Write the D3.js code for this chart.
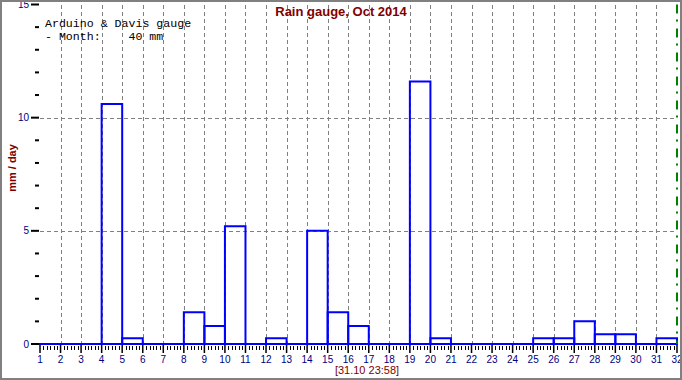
<!DOCTYPE html>
<html>
<head>
<meta charset="utf-8">
<script src="https://cdn.jsdelivr.net/npm/d3@7"></script>
<style>
  html, body { margin: 0; padding: 0; background: #fff; }
  svg { display: block; }
  .grid { stroke: #808080; stroke-width: 1; stroke-dasharray: 4,3; shape-rendering: crispEdges; }
  .tick-label { font-family: Arial, "Liberation Sans", sans-serif; font-size: 10px; fill: #000080; }
  .bar { fill: none; stroke: #0000ff; stroke-width: 2; stroke-linejoin: miter; }
  .note { font-family: "Courier New", "Liberation Mono", monospace; font-size: 11.6px; fill: #000; white-space: pre; }
</style>
</head>
<body>
<div id="chart"></div>
<script>
// daily rainfall, Oct 2014 (mm), one entry per day 1..31
const days = [1, 2, 3, 4, 5, 6, 7, 8, 9, 10, 11, 12, 13, 14, 15, 16,
              17, 18, 19, 20, 21, 22, 23, 24, 25, 26, 27, 28, 29, 30, 31];
const rain = [0, 0, 0, 10.6, 0.25, 0, 0, 1.4, 0.8, 5.2, 0, 0.25, 0, 5.0, 1.4, 0.8,
              0, 0, 11.6, 0.25, 0, 0, 0, 0, 0.25, 0.25, 1.0, 0.43, 0.43, 0, 0.25];

// axis ticks
const xTicks = [1, 2, 3, 4, 5, 6, 7, 8, 9, 10, 11, 12, 13, 14, 15, 16,
                17, 18, 19, 20, 21, 22, 23, 24, 25, 26, 27, 28, 29, 30, 31, 32];
const yMajor = [0, 5, 10, 15];
const yMinor = [1, 2, 3, 4, 6, 7, 8, 9, 11, 12, 13, 14];

const title = "Rain gauge, Oct 2014";
const yLabel = "mm / day";
const stamp = "[31.10 23:58]";
const notes = ["Arduino & Davis gauge", "- Month:    40 mm"];
const nowDay = 32;

const width = 682;
const height = 380;

const x = d3.scaleLinear().domain([1, 32]).range([40, 677]);
const y = d3.scaleLinear().domain([0, 15]).range([344, 4.5]);

const svg = d3.select("#chart").append("svg")
    .attr("width", width)
    .attr("height", height);

svg.append("rect")
    .attr("width", width)
    .attr("height", height)
    .attr("fill", "#fff");

// Vertical grid (days 2..31)
svg.selectAll(".vgrid")
    .data(xTicks.filter(d => d > 1 && d < 32))
    .enter().append("line")
    .attr("class", "grid")
    .attr("x1", d => Math.round(x(d)) + 0.5)
    .attr("x2", d => Math.round(x(d)) + 0.5)
    .attr("y1", y(15))
    .attr("y2", y(0));

// Horizontal grid
svg.selectAll(".hgrid")
    .data(yMajor.filter(d => d > 0 && d < 15))
    .enter().append("line")
    .attr("class", "grid")
    .attr("x1", x(1))
    .attr("x2", x(32))
    .attr("y1", d => Math.round(y(d)) + 0.5)
    .attr("y2", d => Math.round(y(d)) + 0.5);

// Notes in the top left corner
svg.selectAll(".note")
    .data(notes)
    .enter().append("text")
    .attr("class", "note")
    .attr("x", 45)
    .attr("y", (d, i) => 26.5 + i * 13)
    .text(d => d);

// Title
svg.append("text")
    .attr("x", 341)
    .attr("y", 16)
    .attr("text-anchor", "middle")
    .style("font-family", "Arial, 'Liberation Sans', sans-serif")
    .style("font-size", "13px")
    .style("font-weight", "bold")
    .style("fill", "#800000")
    .text(title);

// Y axis label
svg.append("text")
    .attr("transform", "translate(16,168) rotate(-90)")
    .attr("text-anchor", "middle")
    .style("font-family", "Arial, 'Liberation Sans', sans-serif")
    .style("font-size", "11px")
    .style("font-weight", "bold")
    .style("fill", "#800000")
    .text(yLabel);

// Y ticks
svg.selectAll(".ymajor")
    .data(yMajor)
    .enter().append("line")
    .attr("x1", 31).attr("x2", 39)
    .attr("y1", d => y(d)).attr("y2", d => y(d))
    .attr("stroke", "#000").attr("stroke-width", 2);

svg.selectAll(".yminor")
    .data(yMinor)
    .enter().append("line")
    .attr("x1", 35).attr("x2", 39)
    .attr("y1", d => y(d)).attr("y2", d => y(d))
    .attr("stroke", "#000").attr("stroke-width", 2);

svg.selectAll(".ylab")
    .data(yMajor)
    .enter().append("text")
    .attr("class", "tick-label")
    .attr("x", 29)
    .attr("y", d => Math.max(y(d), 4))
    .attr("dy", "0.35em")
    .attr("text-anchor", "end")
    .text(d => d);

// X axis ticks
svg.selectAll(".xmajor")
    .data(xTicks)
    .enter().append("line")
    .attr("x1", d => x(d)).attr("x2", d => x(d))
    .attr("y1", y(0)).attr("y2", y(0) + 9)
    .attr("stroke", "#000").attr("stroke-width", 1.5);

// minor ticks every 4 hours
const minor = [];
days.forEach(d => { for (let k = 1; k < 6; k++) minor.push(d + k / 6); });
svg.selectAll(".xminor")
    .data(minor)
    .enter().append("line")
    .attr("x1", d => Math.round(x(d)) + 0.5).attr("x2", d => Math.round(x(d)) + 0.5)
    .attr("y1", y(0) + 2).attr("y2", y(0) + 6)
    .attr("stroke", "#000").attr("stroke-width", 1);

svg.selectAll(".xlab")
    .data(xTicks)
    .enter().append("text")
    .attr("class", "tick-label")
    .attr("x", d => x(d))
    .attr("y", 363)
    .attr("text-anchor", "middle")
    .text(d => d);

// Bars: bottom edges form one blue baseline, then each day's outline
svg.append("rect")
    .attr("x", x(1) - 1)
    .attr("y", y(0) - 1)
    .attr("width", x(32) - x(1) + 2)
    .attr("height", 2)
    .attr("fill", "#0000ff");

svg.selectAll(".barpath")
    .data(days.filter((d, i) => rain[i] > 0))
    .enter().append("path")
    .attr("class", "bar")
    .attr("d", d => {
        const v = rain[days.indexOf(d)];
        return `M${x(d)},${y(0)}V${y(v)}H${x(d + 1)}V${y(0)}`;
    });

// Current time marker
svg.append("line")
    .attr("x1", x(nowDay)).attr("x2", x(nowDay))
    .attr("y1", y(15)).attr("y2", y(0))
    .attr("stroke", "#008000").attr("stroke-width", 2)
    .attr("stroke-dasharray", "9,6,2,7");

// Timestamp
svg.append("text")
    .attr("x", 367)
    .attr("y", 374)
    .attr("text-anchor", "middle")
    .style("font-family", "Arial, 'Liberation Sans', sans-serif")
    .style("font-size", "11px")
    .style("fill", "#800000")
    .text(stamp);

// Frame
svg.append("rect")
    .attr("x", 1).attr("y", 1)
    .attr("width", width - 2).attr("height", height - 2)
    .attr("fill", "none")
    .attr("stroke", "#808080")
    .attr("stroke-width", 2);
</script>
</body>
</html>
